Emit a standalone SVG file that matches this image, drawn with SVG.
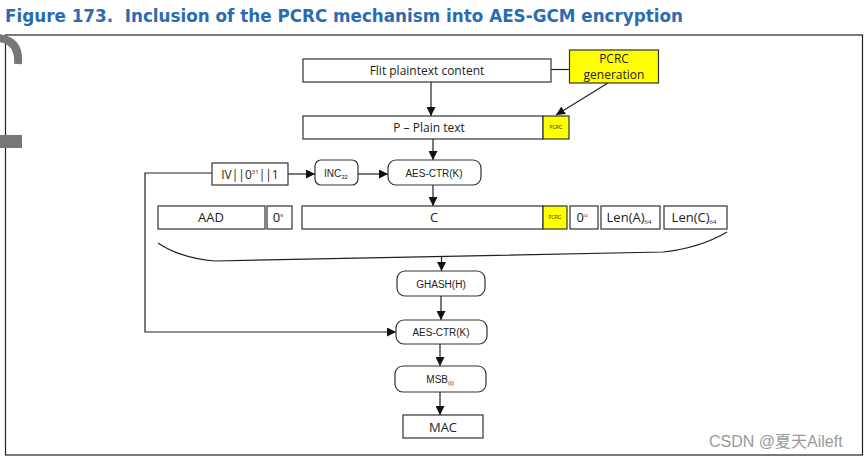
<svg xmlns="http://www.w3.org/2000/svg" width="865" height="458" viewBox="0 0 865 458">
<defs>
<style>
.box{fill:#fff;stroke:#333;stroke-width:1.2}
.yel{fill:#ffff00;stroke:#333;stroke-width:1.2}
.t{font-family:"Open Sans","Liberation Sans",sans-serif;font-size:12px;fill:#222;text-anchor:middle}
.s{font-family:"Liberation Sans",sans-serif;font-size:10px;fill:#222;text-anchor:middle}
.tiny{font-family:"Liberation Sans",sans-serif;font-size:4.5px;fill:#333;text-anchor:middle}
.big{font-family:"Open Sans","Liberation Sans",sans-serif;font-size:13px;fill:#222;text-anchor:middle}
.gen{font-family:"Open Sans","Liberation Sans",sans-serif;font-size:12px;fill:#222;text-anchor:middle}
.ln{fill:none;stroke:#222;stroke-width:1.2}
.sub{font-size:6px}
</style>
<marker id="ah" viewBox="0 0 10 10" refX="10" refY="5" markerWidth="9" markerHeight="9" markerUnits="userSpaceOnUse" orient="auto">
<path d="M0 0L10 5L0 10z" fill="#111"/>
</marker>
</defs>
<rect width="865" height="458" fill="#fff"/>
<text x="5" y="22" xml:space="preserve" font-family="'DejaVu Sans Condensed','DejaVu Sans',sans-serif" font-weight="bold" font-size="18" fill="#2b6cb0" textLength="678" lengthAdjust="spacingAndGlyphs">Figure 173.  Inclusion of the PCRC mechanism into AES-GCM encryption</text>
<rect x="5.5" y="35" width="857" height="420" fill="none" stroke="#222" stroke-width="1.2"/>
<path d="M-2 38 Q20 40 18 64" fill="none" stroke="#777" stroke-width="8"/>
<rect x="0" y="135" width="22" height="13" fill="#777"/>

<g id="connectors">
<line class="ln" x1="546" y1="69.5" x2="570" y2="69.5"/>
<line class="ln" x1="608" y1="83" x2="556" y2="115" marker-end="url(#ah)"/>
<line class="ln" x1="431" y1="82" x2="431" y2="116" marker-end="url(#ah)"/>
<line class="ln" x1="433" y1="139" x2="433" y2="160" marker-end="url(#ah)"/>
<line class="ln" x1="288" y1="174" x2="315" y2="174" marker-end="url(#ah)"/>
<line class="ln" x1="358" y1="174" x2="388" y2="174" marker-end="url(#ah)"/>
<line class="ln" x1="433" y1="185" x2="433" y2="206" marker-end="url(#ah)"/>
<polyline class="ln" points="212,173 145,173 145,332 396,332" marker-end="url(#ah)"/>
<path class="ln" d="M158 243 Q180 258 215 261 L663 252 Q700 248 727 232"/>
<line class="ln" x1="441.5" y1="257" x2="441.5" y2="271" marker-end="url(#ah)"/>
<line class="ln" x1="441" y1="296" x2="441" y2="320" marker-end="url(#ah)"/>
<line class="ln" x1="440" y1="344" x2="440" y2="366" marker-end="url(#ah)"/>
<line class="ln" x1="440" y1="392" x2="440" y2="415" marker-end="url(#ah)"/>
</g>

<g id="flit"><rect class="box" x="303" y="59" width="248" height="23"/><text class="t" x="427" y="74.5">Flit plaintext content</text></g>
<g id="pcrcgen"><rect class="yel" x="569.5" y="50" width="89" height="33"/><text class="gen" x="614" y="63">PCRC</text><text class="gen" x="614" y="79">generation</text></g>
<g id="plain"><rect class="box" x="303" y="116" width="240" height="23"/><text class="t" x="429" y="131.5">P – Plain text</text></g>
<g id="pcrc1"><rect class="yel" x="543" y="116" width="26" height="23"/><text class="tiny" x="556" y="129">PCRC</text></g>
<g id="iv"><rect class="box" x="212" y="163" width="76" height="22"/><text class="t" x="250" y="178.5">IV||0<tspan class="sub" dy="-5">31</tspan><tspan dy="5">||1</tspan></text></g>
<g id="inc"><rect class="box" x="315" y="160" width="43" height="25" rx="6"/><text class="s" x="336" y="176.5">INC<tspan class="sub" dy="2">32</tspan></text></g>
<g id="aes1"><rect class="box" x="388" y="160" width="93" height="25" rx="8"/><text class="s" x="434" y="176.5">AES-CTR(K)</text></g>
<g id="aad"><rect class="box" x="158" y="206" width="107" height="23"/><text class="big" x="211" y="222">AAD</text></g>
<g id="zv"><rect class="box" x="267" y="206" width="25" height="23"/><text class="big" x="278" y="222">0<tspan class="sub" dy="-5">v</tspan></text></g>
<g id="c"><rect class="box" x="302" y="206" width="241" height="23"/><text class="big" x="434" y="222">C</text></g>
<g id="pcrc2"><rect class="yel" x="543" y="206" width="24" height="23"/><text class="tiny" x="555" y="219">PCRC</text></g>
<g id="zu"><rect class="box" x="570" y="206" width="28" height="23"/><text class="big" x="582" y="222">0<tspan class="sub" dy="-5">u</tspan></text></g>
<g id="lena"><rect class="box" x="601" y="206" width="59" height="23"/><text class="big" x="629" y="222">Len(A)<tspan class="sub" dy="2">64</tspan></text></g>
<g id="lenc"><rect class="box" x="664" y="206" width="63" height="23"/><text class="big" x="694" y="222">Len(C)<tspan class="sub" dy="2">64</tspan></text></g>
<g id="ghash"><rect class="box" x="397" y="271" width="88" height="25" rx="8"/><text class="s" x="441" y="287.5">GHASH(H)</text></g>
<g id="aes2"><rect class="box" x="396" y="320" width="91" height="24" rx="8"/><text class="s" x="441" y="336">AES-CTR(K)</text></g>
<g id="msb"><rect class="box" x="395" y="366" width="91" height="26" rx="8"/><text class="s" x="440" y="382.5">MSB<tspan class="sub" dy="2">(t)</tspan></text></g>
<g id="mac"><rect class="box" x="403" y="415" width="80" height="23"/><text class="big" x="443" y="431.5">MAC</text></g>
<text x="709" y="447" font-family="'Liberation Sans','Noto Sans CJK SC',sans-serif" font-size="16" fill="#9a9a9a">CSDN @夏天Aileft</text>
</svg>
